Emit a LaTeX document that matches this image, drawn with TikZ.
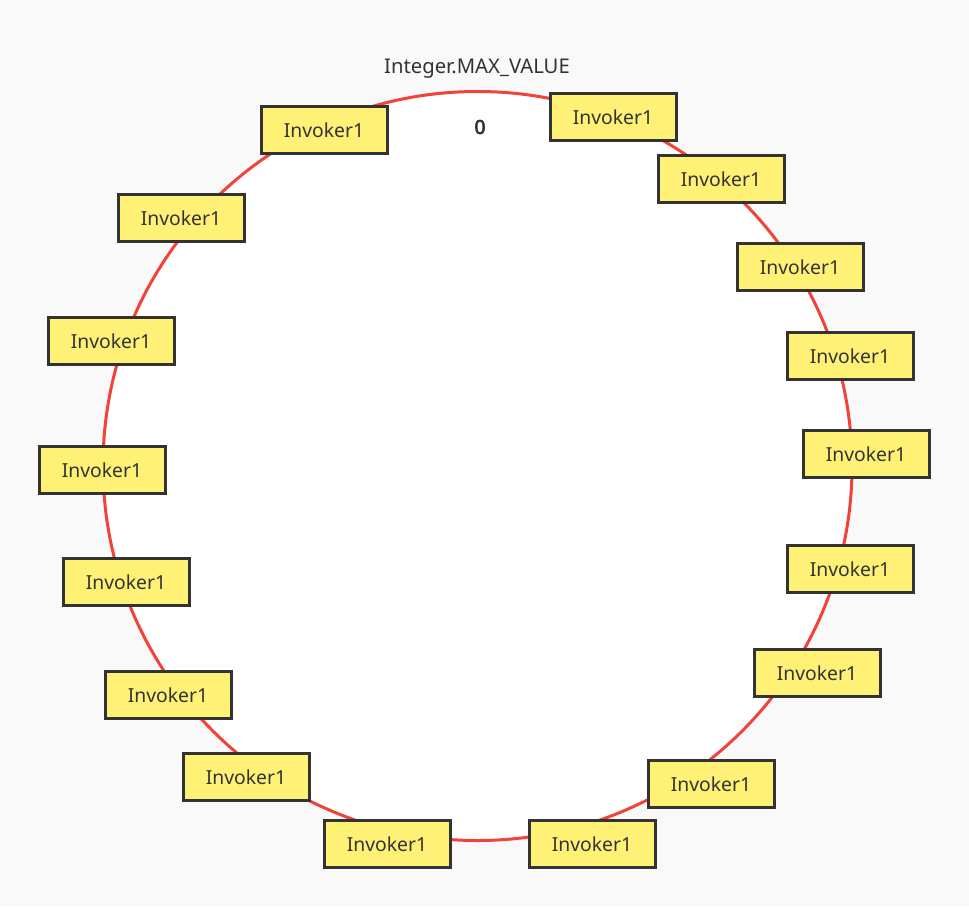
\documentclass[tikz,border=0pt]{standalone}
\usepackage{fontspec}
\setmainfont{Noto Sans}
\newfontfamily\zerofont{Noto Sans}[FakeBold=3.5]
\definecolor{bgc}{HTML}{F9F9F9}
\definecolor{ringc}{HTML}{F2433A}
\definecolor{boxfill}{HTML}{FFF176}
\definecolor{boxline}{HTML}{333333}
\definecolor{txt}{HTML}{333333}
\begin{document}
\begin{tikzpicture}[x=0.75pt,y=-0.75pt,
  inv/.style={draw=boxline, fill=boxfill, line width=2.25pt, minimum width=94.5pt, minimum height=35.25pt, inner sep=0pt, text=txt, font=\fontsize{14.5pt}{16pt}\selectfont},
  lbl/.style={text=txt, inner sep=0pt, font=\fontsize{15.2pt}{17pt}\selectfont},
  zlbl/.style={text=txt, inner sep=0pt, font=\zerofont\fontsize{14.5pt}{17pt}\selectfont}]
\fill[bgc] (0,0) rectangle (969,907);
\useasboundingbox (0,0) rectangle (969,907);
\draw[ringc, fill=white, line width=2.25pt] (477.5,466) circle[radius=374.5];
\node[lbl] (max) at (477,69) {Integer.MAX\_VALUE};
\node[zlbl] (zero) at (480,127) {0};
\node[inv] (n1) at (324,130) {Invoker1};
\node[inv] (n2) at (181,218) {Invoker1};
\node[inv] (n3) at (111,341) {Invoker1};
\node[inv] (n4) at (102,470) {Invoker1};
\node[inv] (n5) at (126,582) {Invoker1};
\node[inv] (n6) at (168,695) {Invoker1};
\node[inv] (n7) at (246,777) {Invoker1};
\node[inv] (n8) at (387,844) {Invoker1};
\node[inv] (n9) at (592,844) {Invoker1};
\node[inv] (n10) at (711,784) {Invoker1};
\node[inv] (n11) at (817,673) {Invoker1};
\node[inv] (n12) at (850,569) {Invoker1};
\node[inv] (n13) at (866,454) {Invoker1};
\node[inv] (n14) at (850,356) {Invoker1};
\node[inv] (n15) at (800,267) {Invoker1};
\node[inv] (n16) at (721,179) {Invoker1};
\node[inv] (n17) at (613,117) {Invoker1};
\end{tikzpicture}
\end{document}
